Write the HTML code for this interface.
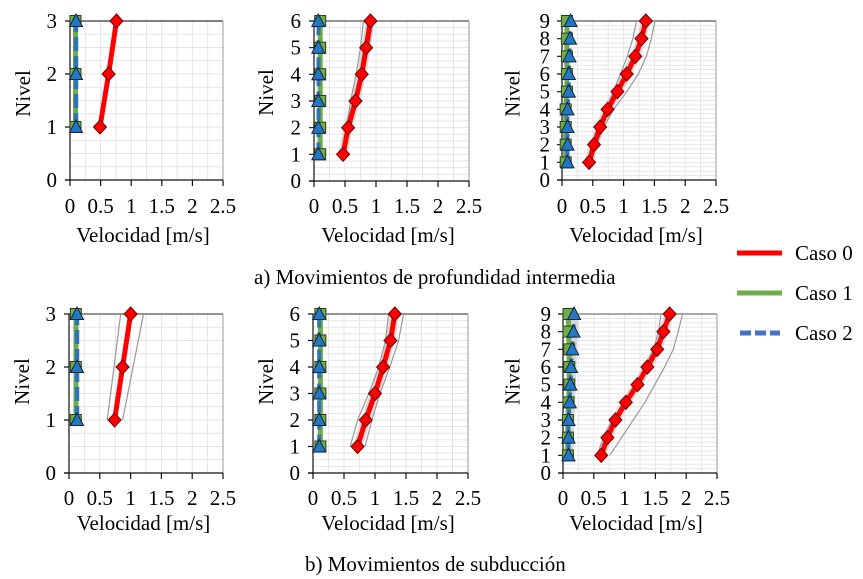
<!DOCTYPE html>
<html><head><meta charset="utf-8"><style>
html,body{margin:0;padding:0;background:#fff}
svg{display:block}
text{font-family:"Liberation Serif","Times New Roman",serif;fill:#000}
.t{font-size:21px}
.ax{font-size:21px}
.cap{font-size:21px}
</style></head><body>
<svg width="863" height="579" viewBox="0 0 863 579" xmlns="http://www.w3.org/2000/svg">
<defs>
<pattern id="ga1" patternUnits="userSpaceOnUse" x="69.5" y="20.5" width="15.3" height="13.25"><path d="M0.5,0 V13.25 M0,0.5 H15.3" stroke="#e4e4e4" stroke-width="1" fill="none"/></pattern>
<pattern id="ga2" patternUnits="userSpaceOnUse" x="313.5" y="20.5" width="15.5" height="6.667"><path d="M0.5,0 V6.667 M0,0.5 H15.5" stroke="#e4e4e4" stroke-width="1" fill="none"/></pattern>
<pattern id="ga3" patternUnits="userSpaceOnUse" x="561.5" y="20.5" width="15.4" height="4.4175"><path d="M0.5,0 V4.4175 M0,0.5 H15.4" stroke="#e6e6e6" stroke-width="1" fill="none"/></pattern>
<pattern id="gb1" patternUnits="userSpaceOnUse" x="68.5" y="313.5" width="15.4" height="13.25"><path d="M0.5,0 V13.25 M0,0.5 H15.4" stroke="#e4e4e4" stroke-width="1" fill="none"/></pattern>
<pattern id="gb2" patternUnits="userSpaceOnUse" x="312.5" y="313.5" width="15.5" height="6.625"><path d="M0.5,0 V6.625 M0,0.5 H15.5" stroke="#e4e4e4" stroke-width="1" fill="none"/></pattern>
<pattern id="gb3" patternUnits="userSpaceOnUse" x="562.5" y="313.5" width="15.4" height="4.4175"><path d="M0.5,0 V4.4175 M0,0.5 H15.4" stroke="#e6e6e6" stroke-width="1" fill="none"/></pattern>
<path id="dm" d="M0,-7 L6.5,0 L0,7 L-6.5,0Z" fill="#ff0000" stroke="#6b0000" stroke-width="1"/>
<path id="sq" d="M-5.5,-5.5 H5.5 V5.5 H-5.5Z" fill="#70AD47" stroke="#2b3f20" stroke-width="1"/>
<path id="tr" d="M0,-7 L6.5,5.5 L-6.5,5.5Z" fill="#2378C3" stroke="#12263d" stroke-width="1"/>
</defs>

<!-- ============ PANEL A1 ============ -->
<rect x="70" y="21" width="153" height="159" fill="url(#ga1)"/>
<line x1="70" y1="21" x2="223" y2="21" stroke="#333" stroke-width="1.2"/>
<line x1="223" y1="21" x2="223" y2="180" stroke="#999" stroke-width="1"/>
<line x1="70" y1="21" x2="70" y2="180" stroke="#111" stroke-width="1.2"/>
<line x1="65" y1="180" x2="223" y2="180" stroke="#111" stroke-width="1.2"/>
<path d="M65,21H70M65,74H70M65,127H70M65,180H70M70,180V186M100.6,180V186M131.2,180V186M161.8,180V186M192.4,180V186M223,180V186" stroke="#111" stroke-width="1.2"/>
<g class="t" text-anchor="end"><text x="57" y="28">3</text><text x="57" y="81">2</text><text x="57" y="134">1</text><text x="57" y="187">0</text></g>
<g class="t" text-anchor="middle"><text x="70" y="213">0</text><text x="100.6" y="213">0.5</text><text x="131.2" y="213">1</text><text x="161.8" y="213">1.5</text><text x="192.4" y="213">2</text><text x="223" y="213">2.5</text></g>
<text class="ax" x="143" y="242" text-anchor="middle">Velocidad [m/s]</text>
<text class="ax" transform="translate(23,93.5) rotate(-90)" x="0" y="7" text-anchor="middle">Nivel</text>
<polyline points="75.5,127 75.5,74 75.5,21" fill="none" stroke="#70AD47" stroke-width="5"/>
<polyline points="76,127 76,74 76,21" fill="none" stroke="#2E75B6" stroke-width="4.5" stroke-dasharray="14,5"/>
<polyline points="100,127 108.6,74 116.5,21" fill="none" stroke="#ff0000" stroke-width="5" stroke-linejoin="round"/>
<use href="#sq" x="75.5" y="127"/><use href="#sq" x="75.5" y="74"/><use href="#sq" x="75.5" y="21"/>
<use href="#tr" x="76" y="127"/><use href="#tr" x="76" y="74"/><use href="#tr" x="76" y="21"/>
<use href="#dm" x="100" y="127"/><use href="#dm" x="108.6" y="74"/><use href="#dm" x="116.5" y="21"/>

<!-- ============ PANEL A2 ============ -->
<rect x="314" y="21" width="155" height="160" fill="url(#ga2)"/>
<line x1="314" y1="21" x2="469" y2="21" stroke="#555" stroke-width="1.2"/>
<line x1="469" y1="21" x2="469" y2="181" stroke="#999" stroke-width="1"/>
<line x1="314" y1="21" x2="314" y2="181" stroke="#111" stroke-width="1.2"/>
<line x1="309" y1="181" x2="469" y2="181" stroke="#111" stroke-width="1.2"/>
<path d="M309,21H314M309,47.7H314M309,74.3H314M309,101H314M309,127.7H314M309,154.3H314M309,181H314M314,181V187M345,181V187M376,181V187M407,181V187M438,181V187M469,181V187" stroke="#111" stroke-width="1.2"/>
<g class="t" text-anchor="end"><text x="301" y="28">6</text><text x="301" y="54.7">5</text><text x="301" y="81.3">4</text><text x="301" y="108">3</text><text x="301" y="134.7">2</text><text x="301" y="161.3">1</text><text x="301" y="188">0</text></g>
<g class="t" text-anchor="middle"><text x="314" y="213">0</text><text x="345" y="213">0.5</text><text x="376" y="213">1</text><text x="407" y="213">1.5</text><text x="438" y="213">2</text><text x="469" y="213">2.5</text></g>
<text class="ax" x="388" y="242" text-anchor="middle">Velocidad [m/s]</text>
<text class="ax" transform="translate(266,92.5) rotate(-90)" x="0" y="7" text-anchor="middle">Nivel</text>
<polyline points="320.2,154.3 320.2,21" fill="none" stroke="#70AD47" stroke-width="5"/>
<polyline points="318.5,154.3 318.5,21" fill="none" stroke="#2E75B6" stroke-width="4" stroke-dasharray="12,5"/>
<polyline points="343.1,154.3 348.1,127.7 355.5,101 361.7,74.3 366.1,47.7 370.4,21" fill="none" stroke="#d6d6d6" stroke-width="9" stroke-linejoin="round"/>
<polyline points="341.9,154.3 346.9,127.7 350.5,101 356.2,74.3 360.5,47.7 363.5,21" fill="none" stroke="#999" stroke-width="1.2"/>
<polyline points="344.4,154.3 350,127.7 357.4,101 363.6,74.3 368.6,47.7 372.9,21" fill="none" stroke="#999" stroke-width="1.2"/>
<polyline points="343.1,154.3 348.1,127.7 355.5,101 361.7,74.3 366.1,47.7 370.4,21" fill="none" stroke="#ff0000" stroke-width="5" stroke-linejoin="round"/>
<use href="#sq" x="320.2" y="154.3"/><use href="#sq" x="320.2" y="127.7"/><use href="#sq" x="320.2" y="101"/><use href="#sq" x="320.2" y="74.3"/><use href="#sq" x="320.2" y="47.7"/><use href="#sq" x="320.2" y="21"/>
<use href="#tr" x="318.3" y="154.3"/><use href="#tr" x="318.3" y="127.7"/><use href="#tr" x="318.3" y="101"/><use href="#tr" x="318.3" y="74.3"/><use href="#tr" x="318.3" y="47.7"/><use href="#tr" x="318.3" y="21"/>
<use href="#dm" x="343.1" y="154.3"/><use href="#dm" x="348.1" y="127.7"/><use href="#dm" x="355.5" y="101"/><use href="#dm" x="361.7" y="74.3"/><use href="#dm" x="366.1" y="47.7"/><use href="#dm" x="370.4" y="21"/>

<!-- ============ PANEL A3 ============ -->
<rect x="562" y="21" width="154" height="159" fill="url(#ga3)"/>
<line x1="562" y1="21" x2="716" y2="21" stroke="#555" stroke-width="1.2"/>
<line x1="716" y1="21" x2="716" y2="180" stroke="#999" stroke-width="1"/>
<line x1="562" y1="21" x2="562" y2="180" stroke="#111" stroke-width="1.2"/>
<line x1="557" y1="180" x2="716" y2="180" stroke="#111" stroke-width="1.2"/>
<path d="M557,21H562M557,38.67H562M557,56.33H562M557,74H562M557,91.67H562M557,109.33H562M557,127H562M557,144.67H562M557,162.33H562M557,180H562M562,180V186M592.8,180V186M623.6,180V186M654.4,180V186M685.2,180V186M716,180V186" stroke="#111" stroke-width="1.2"/>
<g class="t" text-anchor="end"><text x="550" y="28">9</text><text x="550" y="45.7">8</text><text x="550" y="63.3">7</text><text x="550" y="81">6</text><text x="550" y="98.7">5</text><text x="550" y="116.3">4</text><text x="550" y="134">3</text><text x="550" y="151.7">2</text><text x="550" y="169.3">1</text><text x="550" y="187">0</text></g>
<g class="t" text-anchor="middle"><text x="562" y="213">0</text><text x="592.8" y="213">0.5</text><text x="623.6" y="213">1</text><text x="654.4" y="213">1.5</text><text x="685.2" y="213">2</text><text x="716" y="213">2.5</text></g>
<text class="ax" x="636" y="242" text-anchor="middle">Velocidad [m/s]</text>
<text class="ax" transform="translate(512.5,93.5) rotate(-90)" x="0" y="7" text-anchor="middle">Nivel</text>
<polyline points="565.7,162.33 565.7,109.33 566.9,91.67 566.9,21" fill="none" stroke="#70AD47" stroke-width="5"/>
<polyline points="567.5,162.33 567.5,109.33 568.8,91.67 568.8,74 569.4,56.33 570,38.67 570.6,21" fill="none" stroke="#2E75B6" stroke-width="4" stroke-dasharray="12,5"/>
<polyline points="589.1,162.33 594,144.67 600.2,127 607.6,109.33 617.4,91.67 626.7,74 635.3,56.33 641.5,38.67 645.8,21" fill="none" stroke="#d6d6d6" stroke-width="9" stroke-linejoin="round"/>
<polyline points="587.9,162.33 591.6,144.67 597.7,127 606.4,109.33 613.1,91.67 620.5,74 627.3,56.33 632.8,38.67 636.5,21" fill="none" stroke="#999" stroke-width="1.2"/>
<polyline points="591,162.33 596.5,144.67 603.9,127 613.7,109.33 626.7,91.67 638.4,74 646.4,56.33 651.3,38.67 655,21" fill="none" stroke="#999" stroke-width="1.2"/>
<polyline points="589.1,162.33 594,144.67 600.2,127 607.6,109.33 617.4,91.67 626.7,74 635.3,56.33 641.5,38.67 645.8,21" fill="none" stroke="#ff0000" stroke-width="5" stroke-linejoin="round"/>
<use href="#sq" x="565.7" y="162.33"/><use href="#sq" x="565.7" y="144.67"/><use href="#sq" x="565.7" y="127"/><use href="#sq" x="565.7" y="109.33"/><use href="#sq" x="566.9" y="91.67"/><use href="#sq" x="566.9" y="74"/><use href="#sq" x="566.9" y="56.33"/><use href="#sq" x="566.9" y="38.67"/><use href="#sq" x="566.9" y="21"/>
<use href="#tr" x="567.5" y="162.33"/><use href="#tr" x="567.5" y="144.67"/><use href="#tr" x="567.5" y="127"/><use href="#tr" x="567.5" y="109.33"/><use href="#tr" x="568.8" y="91.67"/><use href="#tr" x="568.8" y="74"/><use href="#tr" x="569.4" y="56.33"/><use href="#tr" x="570" y="38.67"/><use href="#tr" x="570.6" y="21"/>
<use href="#dm" x="589.1" y="162.33"/><use href="#dm" x="594" y="144.67"/><use href="#dm" x="600.2" y="127"/><use href="#dm" x="607.6" y="109.33"/><use href="#dm" x="617.4" y="91.67"/><use href="#dm" x="626.7" y="74"/><use href="#dm" x="635.3" y="56.33"/><use href="#dm" x="641.5" y="38.67"/><use href="#dm" x="645.8" y="21"/>

<!-- ============ PANEL B1 ============ -->
<rect x="69" y="314" width="154" height="159" fill="url(#gb1)"/>
<line x1="69" y1="314" x2="223" y2="314" stroke="#555" stroke-width="1.2"/>
<line x1="223" y1="314" x2="223" y2="473" stroke="#999" stroke-width="1"/>
<line x1="69" y1="314" x2="69" y2="473" stroke="#111" stroke-width="1.2"/>
<line x1="64" y1="473" x2="223" y2="473" stroke="#111" stroke-width="1.2"/>
<path d="M64,314H69M64,367H69M64,420H69M64,473H69M69,473V479M99.8,473V479M130.6,473V479M161.4,473V479M192.2,473V479M223,473V479" stroke="#111" stroke-width="1.2"/>
<g class="t" text-anchor="end"><text x="56" y="321">3</text><text x="56" y="374">2</text><text x="56" y="427">1</text><text x="56" y="480">0</text></g>
<g class="t" text-anchor="middle"><text x="69" y="505">0</text><text x="99.8" y="505">0.5</text><text x="130.6" y="505">1</text><text x="161.4" y="505">1.5</text><text x="192.2" y="505">2</text><text x="223" y="505">2.5</text></g>
<text class="ax" x="143.5" y="530" text-anchor="middle">Velocidad [m/s]</text>
<text class="ax" transform="translate(22,381.5) rotate(-90)" x="0" y="7" text-anchor="middle">Nivel</text>
<polyline points="76,420 76,314" fill="none" stroke="#70AD47" stroke-width="5"/>
<polyline points="77,420 77,314" fill="none" stroke="#2E75B6" stroke-width="4.5" stroke-dasharray="14,5"/>
<polyline points="107.2,420 114,367 120.7,314" fill="none" stroke="#999" stroke-width="1.2"/>
<polyline points="122.6,420 133.1,367 143.5,314" fill="none" stroke="#999" stroke-width="1.2"/>
<polyline points="114.6,420 122.6,367 130.6,314" fill="none" stroke="#ff0000" stroke-width="5" stroke-linejoin="round"/>
<use href="#sq" x="75.8" y="420"/><use href="#sq" x="75.8" y="367"/><use href="#sq" x="75.8" y="314"/>
<use href="#tr" x="77" y="420"/><use href="#tr" x="77" y="367"/><use href="#tr" x="77" y="314"/>
<use href="#dm" x="114.6" y="420"/><use href="#dm" x="122.6" y="367"/><use href="#dm" x="130.6" y="314"/>

<!-- ============ PANEL B2 ============ -->
<rect x="313" y="314" width="155" height="159" fill="url(#gb2)"/>
<line x1="313" y1="314" x2="468" y2="314" stroke="#555" stroke-width="1.2"/>
<line x1="468" y1="314" x2="468" y2="473" stroke="#999" stroke-width="1"/>
<line x1="313" y1="314" x2="313" y2="473" stroke="#111" stroke-width="1.2"/>
<line x1="308" y1="473" x2="468" y2="473" stroke="#111" stroke-width="1.2"/>
<path d="M308,314H313M308,340.5H313M308,367H313M308,393.5H313M308,420H313M308,446.5H313M308,473H313M313,473V479M344,473V479M375,473V479M406,473V479M437,473V479M468,473V479" stroke="#111" stroke-width="1.2"/>
<g class="t" text-anchor="end"><text x="300" y="321">6</text><text x="300" y="347.5">5</text><text x="300" y="374">4</text><text x="300" y="400.5">3</text><text x="300" y="427">2</text><text x="300" y="453.5">1</text><text x="300" y="480">0</text></g>
<g class="t" text-anchor="middle"><text x="313" y="505">0</text><text x="344" y="505">0.5</text><text x="375" y="505">1</text><text x="406" y="505">1.5</text><text x="437" y="505">2</text><text x="468" y="505">2.5</text></g>
<text class="ax" x="388" y="530" text-anchor="middle">Velocidad [m/s]</text>
<text class="ax" transform="translate(266,381.5) rotate(-90)" x="0" y="7" text-anchor="middle">Nivel</text>
<polyline points="320.4,446.5 320.4,314" fill="none" stroke="#70AD47" stroke-width="5"/>
<polyline points="319.2,446.5 319.2,314" fill="none" stroke="#2E75B6" stroke-width="4" stroke-dasharray="12,5"/>
<polyline points="357.6,446.5 365.7,420 375,393.5 383.1,367 390.5,340.5 394.8,314" fill="none" stroke="#d6d6d6" stroke-width="9" stroke-linejoin="round"/>
<polyline points="350.2,446.5 357.6,420 368.8,393.5 378.7,367 385.5,340.5 388.6,314" fill="none" stroke="#999" stroke-width="1.2"/>
<polyline points="365.1,446.5 371.9,420 380,393.5 389.9,367 398.6,340.5 403.5,314" fill="none" stroke="#999" stroke-width="1.2"/>
<polyline points="357.6,446.5 365.7,420 375,393.5 383.1,367 390.5,340.5 394.8,314" fill="none" stroke="#ff0000" stroke-width="5" stroke-linejoin="round"/>
<use href="#sq" x="320.4" y="446.5"/><use href="#sq" x="320.4" y="420"/><use href="#sq" x="320.4" y="393.5"/><use href="#sq" x="320.4" y="367"/><use href="#sq" x="320.4" y="340.5"/><use href="#sq" x="320.4" y="314"/>
<use href="#tr" x="319.2" y="446.5"/><use href="#tr" x="319.2" y="420"/><use href="#tr" x="319.2" y="393.5"/><use href="#tr" x="319.2" y="367"/><use href="#tr" x="319.2" y="340.5"/><use href="#tr" x="319.2" y="314"/>
<use href="#dm" x="357.6" y="446.5"/><use href="#dm" x="365.7" y="420"/><use href="#dm" x="375" y="393.5"/><use href="#dm" x="383.1" y="367"/><use href="#dm" x="390.5" y="340.5"/><use href="#dm" x="394.8" y="314"/>

<!-- ============ PANEL B3 ============ -->
<rect x="563" y="314" width="154" height="159" fill="url(#gb3)"/>
<line x1="563" y1="314" x2="717" y2="314" stroke="#777" stroke-width="1.2"/>
<line x1="717" y1="314" x2="717" y2="473" stroke="#999" stroke-width="1"/>
<line x1="563" y1="314" x2="563" y2="473" stroke="#111" stroke-width="1.2"/>
<line x1="558" y1="473" x2="717" y2="473" stroke="#111" stroke-width="1.2"/>
<path d="M558,314H563M558,331.67H563M558,349.33H563M558,367H563M558,384.67H563M558,402.33H563M558,420H563M558,437.67H563M558,455.33H563M558,473H563M563,473V479M593.8,473V479M624.6,473V479M655.4,473V479M686.2,473V479M717,473V479" stroke="#111" stroke-width="1.2"/>
<g class="t" text-anchor="end"><text x="551" y="321">9</text><text x="551" y="338.7">8</text><text x="551" y="356.3">7</text><text x="551" y="374">6</text><text x="551" y="391.7">5</text><text x="551" y="409.3">4</text><text x="551" y="427">3</text><text x="551" y="444.7">2</text><text x="551" y="462.3">1</text><text x="551" y="480">0</text></g>
<g class="t" text-anchor="middle"><text x="563" y="505">0</text><text x="593.8" y="505">0.5</text><text x="624.6" y="505">1</text><text x="655.4" y="505">1.5</text><text x="686.2" y="505">2</text><text x="717" y="505">2.5</text></g>
<text class="ax" x="636" y="530" text-anchor="middle">Velocidad [m/s]</text>
<text class="ax" transform="translate(512.5,381.5) rotate(-90)" x="0" y="7" text-anchor="middle">Nivel</text>
<polyline points="568.5,455.33 574.1,314" fill="none" stroke="#d8d8d8" stroke-width="9"/>
<polyline points="567.9,455.33 567.9,420 568.5,402.33 569.2,384.67 569.2,349.33 568.5,331.67 568.5,314" fill="none" stroke="#70AD47" stroke-width="5"/>
<polyline points="568.5,455.33 568.5,420 569.8,402.33 570.4,384.67 571,367 572.2,349.33 573.5,331.67 574.1,314" fill="none" stroke="#2E75B6" stroke-width="4" stroke-dasharray="12,5"/>
<polyline points="601.2,455.33 607.4,437.67 615.4,420 625.8,402.33 637.5,384.67 647.4,367 657.2,349.33 663.4,331.67 669.6,314" fill="none" stroke="#d6d6d6" stroke-width="9" stroke-linejoin="round"/>
<polyline points="596.9,455.33 603.7,437.67 612.3,420 623.4,402.33 635.1,384.67 644.9,367 653.6,349.33 658.5,331.67 661,314" fill="none" stroke="#999" stroke-width="1.2"/>
<polyline points="609.8,455.33 621.5,437.67 633.2,420 644.9,402.33 654.8,384.67 664.6,367 673.3,349.33 678.2,331.67 682.5,314" fill="none" stroke="#999" stroke-width="1.2"/>
<polyline points="601.2,455.33 607.4,437.67 615.4,420 625.8,402.33 637.5,384.67 647.4,367 657.2,349.33 663.4,331.67 669.6,314" fill="none" stroke="#ff0000" stroke-width="5" stroke-linejoin="round"/>
<use href="#sq" x="567.9" y="455.33"/><use href="#sq" x="567.9" y="437.67"/><use href="#sq" x="567.9" y="420"/><use href="#sq" x="568.5" y="402.33"/><use href="#sq" x="569.2" y="384.67"/><use href="#sq" x="569.2" y="367"/><use href="#sq" x="569.2" y="349.33"/><use href="#sq" x="568.5" y="331.67"/><use href="#sq" x="568.5" y="314"/>
<use href="#tr" x="568.5" y="455.33"/><use href="#tr" x="568.5" y="437.67"/><use href="#tr" x="568.5" y="420"/><use href="#tr" x="569.8" y="402.33"/><use href="#tr" x="570.4" y="384.67"/><use href="#tr" x="571" y="367"/><use href="#tr" x="572.2" y="349.33"/><use href="#tr" x="573.5" y="331.67"/><use href="#tr" x="574.1" y="314"/>
<use href="#dm" x="601.2" y="455.33"/><use href="#dm" x="607.4" y="437.67"/><use href="#dm" x="615.4" y="420"/><use href="#dm" x="625.8" y="402.33"/><use href="#dm" x="637.5" y="384.67"/><use href="#dm" x="647.4" y="367"/><use href="#dm" x="657.2" y="349.33"/><use href="#dm" x="663.4" y="331.67"/><use href="#dm" x="669.6" y="314"/>

<!-- ============ CAPTIONS ============ -->
<text class="cap" x="254" y="284">a) Movimientos de profundidad intermedia</text>
<text class="cap" x="305" y="571">b) Movimientos de subducción</text>

<!-- ============ LEGEND ============ -->
<line x1="737" y1="253" x2="782" y2="253" stroke="#ff0000" stroke-width="5"/>
<text class="ax" x="795" y="260">Caso 0</text>
<line x1="737" y1="293" x2="782" y2="293" stroke="#70AD47" stroke-width="5"/>
<text class="ax" x="795" y="300">Caso 1</text>
<line x1="740" y1="333" x2="780" y2="333" stroke="#4472C4" stroke-width="5" stroke-dasharray="11,4"/>
<text class="ax" x="795" y="340">Caso 2</text>
</svg>
</body></html>
